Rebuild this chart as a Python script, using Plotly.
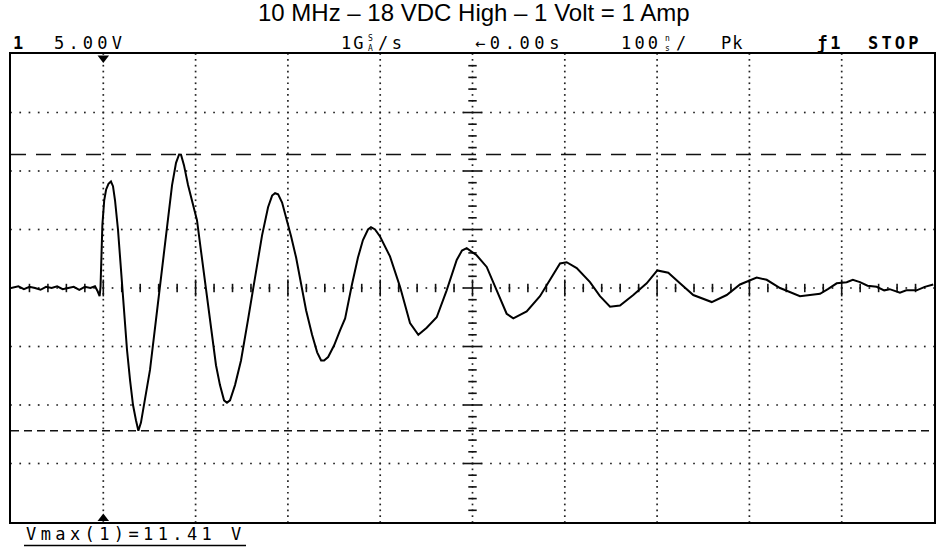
import numpy as np
import plotly.graph_objects as go

# ---------------- data (time in ns, voltage in V) ----------------
t_ns = [-100, -92, -86, -80, -74, -68, -62, -56, -50, -44, -38, -32, -26, -20, -14, -9, -6, -4, -3,
        -2, -1, 1, 3, 5.6, 8.3, 10.5, 12.7, 15.9, 19.2, 22.4, 25.7, 29, 32.2, 35.4, 38,
        40.8, 44.1, 50.6, 57.1, 63.6, 70.1, 74.5, 78.8, 82.1, 84.2, 87.4, 91.8, 97.2,
        101.5, 105.8, 111.3, 116.7, 122.1, 126.4, 130.8, 134, 137.3, 142.7, 149.2, 156.8,
        164.4, 172, 178.5, 182.9, 186.1, 189.4, 193.7, 199.1, 203.5, 208.9, 214.3, 219.7,
        226.2, 231.7, 236, 239.2, 243.6, 250.1, 256.6, 262, 269.4, 275.9, 281.3, 286.8,
        290, 294.4, 299.8, 310.6, 321.5, 332.3, 341.3, 350.4, 361.2, 372, 382.9, 388.6,
        393.7, 404.5, 415.4, 426.2, 437, 444.2, 458.7, 473.1, 484, 494.8, 502, 512.9,
        527.3, 538.1, 549, 559.8, 574.2, 588.7, 600.2, 612.1, 624.8, 639.2, 659.2, 675.4,
        689.8, 707.9, 718.7, 733.2, 754.8, 776.5, 785, 794.6, 805.4, 812, 819.8, 828,
        837.9, 846, 852, 863.1, 870, 881.2, 890, 899.2]
v_volts = [0.0, 0.15, -0.1, 0.1, 0.0, -0.15, 0.1, 0.0, 0.15, -0.1, 0.0, 0.1, -0.15, 0.1, 0.0,
           0.15, -0.3, -0.7, 0.1,
           2.4, 5.4, 7.5, 8.4, 8.9, 9.1, 8.7, 7.5, 5.0, 1.5, -1.9, -5.3, -7.9, -10.0, -11.3, -12.2,
           -11.5, -10.0, -7.0, -2.7, 1.5, 6.2, 8.8, 10.7, 11.41, 11.4, 10.5, 8.8, 7.1,
           5.8, 3.2, -0.2, -3.6, -6.6, -8.3, -9.6, -9.8, -9.6, -8.3, -6.2, -2.7,
           1.1, 4.5, 6.9, 7.9, 8.1, 8.0, 7.3, 5.8, 4.4, 2.6, 0.3, -1.9,
           -4.0, -5.5, -6.2, -6.2, -5.9, -4.9, -3.6, -2.6, 0.3, 2.6, 4.1, 5.0,
           5.2, 5.0, 4.4, 2.7, 0.1, -3.0, -4.0, -3.4, -2.5, -0.2, 2.4, 3.2,
           3.4, 2.8, 1.8, -0.2, -2.2, -2.6, -2.0, -0.7, 0.7, 2.1, 2.2, 1.7,
           0.5, -0.7, -1.6, -1.5, -0.6, 0.4, 1.5, 1.3, 0.4, -0.6, -1.2, -0.6,
           0.3, 0.9, 0.7, 0.0, -0.7, -0.5, -0.1, 0.4, 0.5, 0.7, 0.5, 0.2,
           0.1, -0.2, -0.1, -0.4, -0.2, -0.2, 0.1, 0.3]

NS_PER_DIV = 100.0
VOLTS_PER_DIV = 5.0
T_RANGE = [-100, 900]
V_RANGE = [-20, 20]
vmax_cursor = 11.41
vmin_cursor = -12.2

title_text = "10 MHz \u2013 18 VDC High \u2013 1 Volt = 1 Amp"
meas_text = "Vmax(1)=11.41 V"

# ---------------- figure ----------------
W, H = 948, 548
ML, MR, MT, MB = 11, 14, 54, 26
PW, PH = W - ML - MR, H - MT - MB


def px(x):
    return (x - ML) / PW


def py(y):
    return (H - MB - y) / PH


fig = go.Figure()

# dotted graticule
gx, gy = [], []
dots_t = np.arange(T_RANGE[0], T_RANGE[1] + 0.01, NS_PER_DIV / 10)
dots_v = np.arange(V_RANGE[0], V_RANGE[1] + 0.01, VOLTS_PER_DIV / 10)
for v in np.arange(V_RANGE[0] + VOLTS_PER_DIV, V_RANGE[1], VOLTS_PER_DIV):
    gx += list(dots_t)
    gy += [v] * len(dots_t)
for t in np.arange(T_RANGE[0] + NS_PER_DIV, T_RANGE[1], NS_PER_DIV):
    gx += [t] * len(dots_v)
    gy += list(dots_v)
fig.add_trace(go.Scatter(x=gx, y=gy, mode="markers", hoverinfo="skip",
                         marker=dict(symbol="square", size=1.7, color="#222", line_width=0)))

t_center = (T_RANGE[0] + T_RANGE[1]) / 2
v_center = 0.0
# ticks on centre horizontal axis
minor_t = [t for t in np.arange(T_RANGE[0], T_RANGE[1] + 0.01, NS_PER_DIV / 5) if abs(t % NS_PER_DIV) > 1e-6]
major_t = list(np.arange(T_RANGE[0] + NS_PER_DIV, T_RANGE[1], NS_PER_DIV))
fig.add_trace(go.Scatter(x=minor_t, y=[v_center] * len(minor_t), mode="markers", hoverinfo="skip",
                         marker=dict(symbol="line-ns", size=6, line=dict(width=1.6, color="#111"))))
fig.add_trace(go.Scatter(x=major_t, y=[v_center] * len(major_t), mode="markers", hoverinfo="skip",
                         marker=dict(symbol="line-ns", size=12, line=dict(width=1.6, color="#111"))))
# ticks on centre vertical axis
minor_v = [v for v in np.arange(V_RANGE[0], V_RANGE[1] + 0.01, VOLTS_PER_DIV / 5) if abs(v % VOLTS_PER_DIV) > 1e-6]
major_v = list(np.arange(V_RANGE[0] + VOLTS_PER_DIV, V_RANGE[1], VOLTS_PER_DIV))
fig.add_trace(go.Scatter(x=[t_center] * len(minor_v), y=minor_v, mode="markers", hoverinfo="skip",
                         marker=dict(symbol="line-ew", size=6, line=dict(width=1.6, color="#111"))))
fig.add_trace(go.Scatter(x=[t_center] * len(major_v), y=major_v, mode="markers", hoverinfo="skip",
                         marker=dict(symbol="line-ew", size=13, line=dict(width=1.6, color="#111"))))

# cursors
fig.add_shape(type="line", xref="paper", x0=0, x1=1, yref="y", y0=vmax_cursor, y1=vmax_cursor,
              line=dict(color="#111", width=1.5, dash="15px,10px"))
fig.add_shape(type="line", xref="paper", x0=0, x1=1, yref="y", y0=vmin_cursor, y1=vmin_cursor,
              line=dict(color="#111", width=1.5, dash="8px,5px"))

# waveform
fig.add_trace(go.Scatter(x=t_ns, y=v_volts, mode="lines", hoverinfo="skip",
                         line=dict(color="black", width=2)))

# trigger / ground markers
fig.add_trace(go.Scatter(x=[0], y=[V_RANGE[1] - 0.35], mode="markers", cliponaxis=False, hoverinfo="skip",
                         marker=dict(symbol="triangle-down", size=10, color="black")))
fig.add_trace(go.Scatter(x=[0], y=[V_RANGE[0] + 0.3], mode="markers", cliponaxis=False, hoverinfo="skip",
                         marker=dict(symbol="triangle-up", size=10, color="black")))
fig.add_trace(go.Scatter(x=[T_RANGE[1] + 7.5], y=[0], mode="markers", cliponaxis=False, hoverinfo="skip",
                         marker=dict(symbol="triangle-left", size=9, color="black")))

mono = "DejaVu Sans Mono"


def ann(text, x, y, size=17, family=mono, xanchor="left", bold=False, spacing=None):
    txt = ("<b>%s</b>" % text) if bold else text
    if spacing is not None:
        txt = '<span style="letter-spacing:%.1fpx">%s</span>' % (spacing, txt)
    fig.add_annotation(text=txt, x=px(x), y=py(y),
                       xref="paper", yref="paper", showarrow=False, xanchor=xanchor, yanchor="middle",
                       font=dict(family=family, size=size, color="black"))


ann(title_text, 474, 12, size=24, family="Liberation Sans", xanchor="center")
ann("1", 11, 43, bold=True)
ann("5.00V", 52, 43, spacing=4.2)
ann("1G", 339, 43, spacing=2.0)
ann("S<br>A", 366, 43, size=8)
ann("/s", 376, 43, spacing=3.5)
ann("\u21900.00s", 473, 43, spacing=4.6)
ann("100", 619, 43, spacing=3.2)
ann("n<br>s", 663, 43, size=8)
ann("/", 674, 43)
ann("Pk", 719, 43, spacing=1.0)
ann("\u01921", 815, 43, bold=True, spacing=3.0)
ann("STOP", 866, 43, bold=True, spacing=3.2)
ann(meas_text, 24, 534, spacing=4.4)
fig.add_shape(type="line", xref="paper", yref="paper", x0=px(24), x1=px(246), y0=py(545.5), y1=py(545.5),
              line=dict(color="black", width=1.5))

fig.update_layout(width=W, height=H, margin=dict(l=ML, r=MR, t=MT, b=MB),
                  paper_bgcolor="white", plot_bgcolor="white", showlegend=False)
fig.update_xaxes(range=T_RANGE, showgrid=False, zeroline=False, showticklabels=False, ticks="",
                 showline=True, linecolor="black", linewidth=2, mirror=True)
fig.update_yaxes(range=V_RANGE, showgrid=False, zeroline=False, showticklabels=False, ticks="",
                 showline=True, linecolor="black", linewidth=2, mirror=True)

fig.write_html("out.html", config={"displayModeBar": False},
               post_script="document.body.style.margin='0px';")
